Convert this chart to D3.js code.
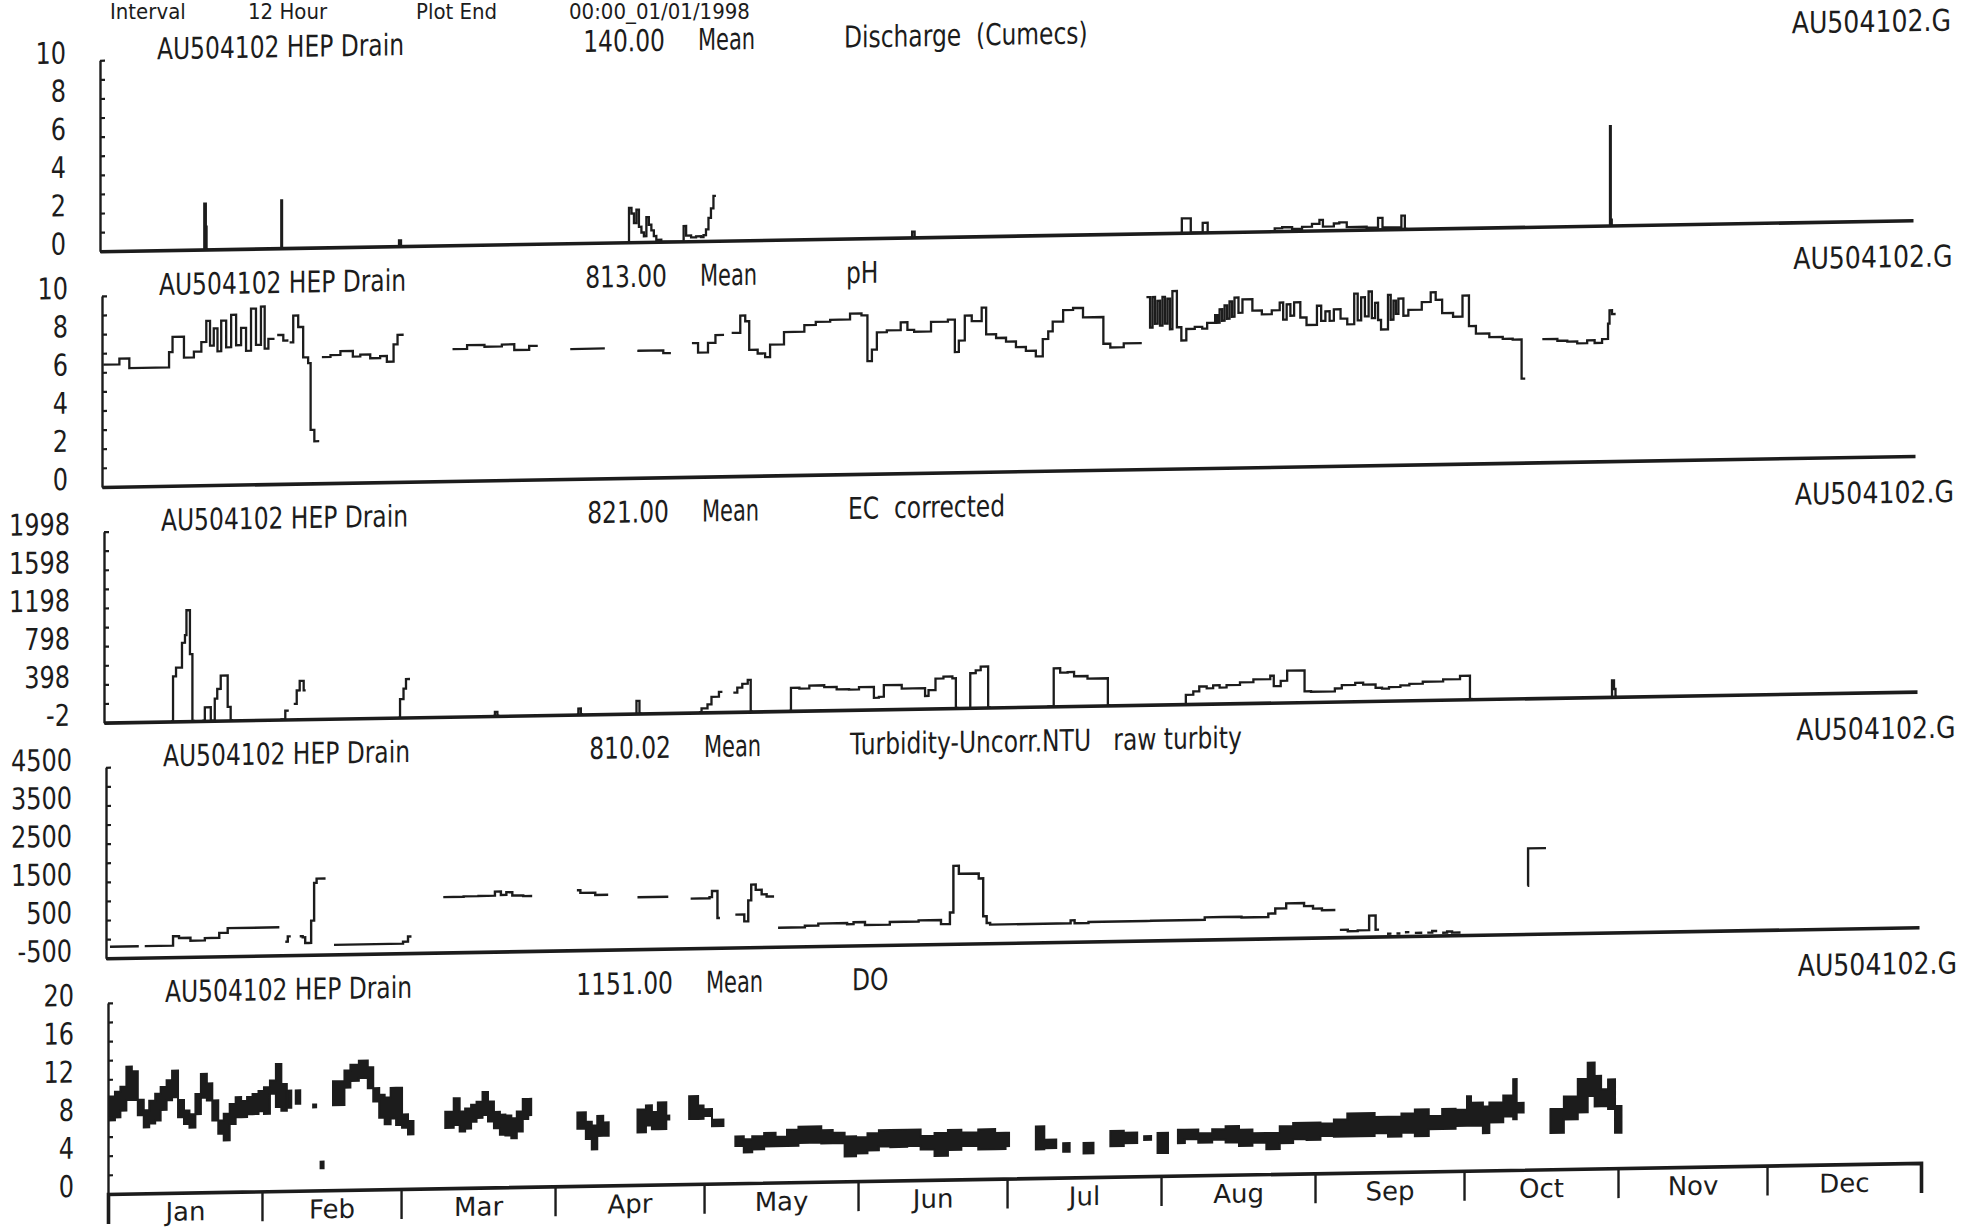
<!DOCTYPE html>
<html>
<head>
<meta charset="utf-8">
<script src="https://cdn.jsdelivr.net/npm/d3@7"></script>
<style>
  html, body { margin: 0; padding: 0; background: #ffffff; }
  svg { display: block; }
  text { font-family: "DejaVu Sans", "Liberation Sans", sans-serif; fill: #1c1c1c; white-space: pre; }
</style>
</head>
<body>
<svg id="chart" width="1961" height="1229"></svg>
<script>
// ---------------- DATA ----------------
// records: [dayOfYear(1997), value] or [day, low, high]; value null = gap starts at that day
const monthNames = ["Jan","Feb","Mar","Apr","May","Jun","Jul","Aug","Sep","Oct","Nov","Dec"];
const headerTexts = ["Interval", "12 Hour", "Plot End", "00:00_01/01/1998"];
const stationTitle = "AU504102 HEP Drain";
const fileLabel = "AU504102.G";
const meanWord = "Mean";
const meanValues = ["140.00", "813.00", "821.00", "810.02", "1151.00"];
const paramLabels = ["Discharge  (Cumecs)", "pH", "EC  corrected", "Turbidity-Uncorr.NTU   raw turbity", "DO"];

const dischargeDomain = [0, 10];
const phDomain = [0, 10];
const ecDomain = [-2, 1998];
const turbDomain = [-500, 4500];
const doDomain = [0, 20];

const dischargeTickLabels = [0, 2, 4, 6, 8, 10];
const phTickLabels = [0, 2, 4, 6, 8, 10];
const ecTickLabels = [-2, 398, 798, 1198, 1598, 1998];
const turbTickLabels = [-500, 500, 1500, 2500, 3500, 4500];
const doTickLabels = [0, 4, 8, 12, 16, 20];

const dischargeData = [
  [20.8,0],[21,2.4],[21.3,1.2],[21.45,0],[21.8,null],
  [36.3,0],[36.5,2.5],[36.65,0],[37,null],
  [59.8,0],[60.2,0.3],[60.6,0],[61,null],
  [106.3,0],[106.5,1.8],[107,1.5],[107.5,1.0],[108,1.7],[108.5,0.8],[109,0.5],[109.5,0.3],[110,1.3],[110.5,0.9],[111,0.6],[111.5,0.3],[112,0.1],[113,0],
  [117.5,0.8],[118,0.3],[119,0.2],[120,0.25],[121,0.2],[121.5,0.3],[122,0.6],[122.5,1.2],[123,1.7],[123.5,2.35],[124,null],
  [163.2,0],[163.5,0.3],[164,0],[164.5,null],
  [217.5,0],[217.8,0.75],[219.6,0],[221.8,0],[222,0.5],[223,0],[223.5,null],
  [235.5,0],[236.5,0.15],[238,0.2],[240,0.1],[242,0.2],[244,0.35],[245.5,0.55],[246.2,0.2],[248.4,0.35],[249.5,0.4],[251,0.15],[255,0.1],[257.3,0.6],[258.2,0.1],[260,0.1],[262,0.7],[262.7,0],[263.2,null],
  [303.8,0],[304,5.2],[304.15,0.3],[304.35,0],[304.6,null]
];

const phData = [
  [0.5,6.4],[3.5,6.7],[5.5,6.2],[13.5,7.0],[14.2,7.8],[16.5,6.7],[18.5,7.0],[20,7.5],[21,7.3,8.6],[22.5,7.0,8.2],[24,7.2,8.6],[26,7.3,8.9],[28,7.0,8.2],[30,7.3,9.2],[32,7.1,9.3],[33.5,7.6],[34.5,null],
  [35.5,7.8],[36.5,7.5],[37.3,null],
  [38,7.4],[38.5,8.8],[39.5,8.2],[40.5,6.6],[41.5,6.3],[42,2.2,2.8],[43.5,null],
  [44.5,6.6],[46,6.7],[48,6.9],[50.5,6.6],[52,6.7],[54,6.5],[56,6.3,6.6],[58.7,7.2],[59.5,7.7],[60.5,null],
  [70.8,6.9],[73.5,7.1],[77,7.0],[80.5,7.1],[83,6.8],[86,7.0],[87.5,null],
  [94.5,6.8],[101,null],
  [108,6.65],[113,6.5],[114.3,null],
  [119,7.0],[120,6.5],[122,7.0],[123.5,7.4],[125,null],
  [127,7.5],[128.5,8.4],[129.5,8.1],[130.3,6.6],[132,6.4],[133.5,6.2],[134.5,6.85],[137.3,7.5],[141.4,7.85],[143.7,8.0],[146.6,8.1],[150.6,8.4],[152.9,8.3],[154.1,5.9],[155,6.5],[156,7.4],[158,7.5],[160.8,7.5,7.9],[163.5,7.4],[166.9,7.9],[170.3,8.0],[171.7,6.3],[172.5,6.9],[173.7,8.2],[175.1,7.9],[177.1,8.6],[178,7.2],[180,7.0],[182,6.8],[184,6.5],[186,6.3],[188,6.0],[189.4,6.9],[190.5,7.3],[191.4,7.8],[193.5,8.4],[195.5,8.5],[197.5,8.0],[201.6,6.6],[203,6.4],[205.7,6.6],[209.1,null],
  [210.5,7.4,9.0],[211.5,7.6,9.0],[212.5,7.5,8.8],[213.5,7.6,9.0],[214.5,7.3,8.9],[215.5,7.4,9.3],[217.3,6.7],[218.3,7.3],[220,7.4],[221.5,7.3],[222.5,7.6],[224.1,7.6,8.0],[225,7.7,8.3],[226,7.8,8.5],[227,7.9,8.7],[228,8.1,8.9],[229.6,8.8],[231.6,8.2],[233.5,8.0],[235.5,8.2],[237.1,7.7,8.6],[238.5,7.9,8.5],[240,7.8,8.6],[242.5,7.4],[244.6,7.6,8.4],[246.3,7.6,8.1],[248,7.7,8.2],[250.7,7.4],[252.1,7.6,9.0],[253.5,7.8,8.8],[255,7.7,9.1],[256.3,7.6,8.5],[257.5,7.1],[258.9,7.6,8.9],[260,7.9,8.6],[261,7.8,8.7],[263,8.1],[265.7,8.5],[267.5,9.0],[268.5,8.6],[269.8,7.9],[272,7.7],[273.9,8.8],[275.2,7.2],[276.6,6.8],[279.3,6.6],[282,6.5],[284,6.45],[285.8,4.4],[286.3,null],
  [290.2,6.45],[293,6.35],[295,6.3],[297,6.2],[299,6.35],[300.5,6.2],[302,6.4],[303.2,7.2],[303.5,7.9],[304,7.7],[304.5,null]
];

const ecData = [
  [13.5,0],[13.9,470],[14.5,560],[15.7,820],[16.3,900],[16.6,1160],[17.3,700],[17.8,0],[18.3,null],
  [19.8,0],[20.3,140],[21.5,0],[22.3,230],[22.8,330],[23.5,470],[24.9,140],[25.5,0],[26,null],
  [35.5,0],[36.5,90],[37.2,null],[38.2,160],[38.8,300],[39.4,400],[40.2,300],[40.6,null],
  [59.3,0],[59.6,190],[60.3,300],[60.8,400],[61.6,null],
  [78.4,0],[78.7,40],[79.2,0],[79.6,null],
  [95.2,0],[95.5,60],[96,0],[96.4,null],
  [107,0],[107.2,130],[107.8,0],[108.2,null],
  [119.8,0],[120.3,40],[121.5,80],[122.3,160],[123.8,210],[124.5,null],
  [126.7,200],[127.5,250],[128.5,290],[129.6,330],[130.2,0],[130.6,null],
  [138,0],[138.3,240],[140,230],[142,260],[145,240],[147.5,215],[150,210],[152,235],[155,120],[156,130],[157,250],[160.6,212],[165.3,130],[166,190],[167.4,310],[169,330],[170.8,310],[171.5,0],[172,null],
  [174.2,0],[174.4,360],[175.5,390],[176.5,428],[178,0],[178.5,null],
  [189.9,0],[191.2,397],[192.5,350],[194,355],[195.3,310],[198,283],[202.1,0],[202.6,null],
  [217.6,0],[217.8,95],[219.3,130],[220.5,180],[222,160],[223.3,190],[224.6,165],[226,190],[228.7,215],[231.4,245],[234.8,280],[235.5,170],[236.9,225],[238.2,330],[241.7,110],[243,105],[247.8,135],[249.2,170],[251.9,190],[253.5,170],[256,135],[257.3,125],[258.7,140],[261,155],[262.8,170],[265.5,190],[269.6,210],[273,245],[275,0],[275.5,null],
  [303.4,0],[303.6,170],[304,80],[304.3,0],[304.6,null]
];

const turbData = [
  [0.8,-200],[6.6,null],[7.8,-200],[13.5,46],[14.7,0],[17,-77],[19.9,-15],[22.8,114],[24.5,234],[34.9,null],
  [36.1,-146],[36.6,-8],[37.2,null],[39,-10],[39.6,-40],[40.1,-190],[40.8,-190],[41.3,395],[41.9,1380],[42.4,1490],[44.2,null],
  [45.9,-250],[59.8,-200],[60.8,-66],[61.5,null],
  [67.9,950],[72,960],[75,965],[78.3,1070],[79.5,980],[80.6,1050],[81.8,960],[84,940],[85.8,null],
  [94.8,1070],[95.5,1000],[98.5,940],[101.1,null],
  [107,860],[113.2,null],
  [117.7,800],[121.5,830],[122,990],[123.1,280],[123.6,null],
  [126.7,360],[128.5,180],[129.3,730],[129.9,1140],[130.8,1000],[132,880],[133,820],[134.5,null],
  [135.3,0],[140.7,40],[143.4,90],[149.2,60],[150.5,110],[152.8,30],[157.8,100],[163.6,130],[168.1,20],[169.9,320],[170.6,1540],[171.7,1330],[175.7,1200],[176.6,210],[177.3,30],[178,-15],[194.2,60],[195,-15],[197.8,10],[209.5,10],[210.4,15],[219.4,15],[221.2,80],[224.8,80],[228.6,60],[234,150],[235.4,280],[237.6,410],[241.2,330],[243,260],[244.8,215],[247.5,null],
  [248.4,-310],[250,-350],[252,-330],[254.3,50],[255.6,-320],[256.3,null],[257.9,-430],[258.8,null],[259.8,-430],[260.6,null],[261.5,-400],[262.4,null],[263.5,-420],[265,null],[266,-420],[267,-380],[268,null],[269,-430],[270,-400],[271,-430],[272.7,null],
  [286.2,760],[286.3,1740],[289.8,1740],[289.9,null]
];

const doData = [
  [0.2,7.7,10.2],[1.4,8.0,10.7],[2.5,8.7,11.2],[3.7,9.8,13.3],[4.8,9.8,12.8],[6.0,8.2,9.8],[7.2,6.9,8.7],[8.3,7.3,9.7],[9.5,7.6,10.4],[10.6,8.7,11.1],[11.8,9.7,11.8],[12.9,10.0,12.8],[14.1,7.9,9.7],[15.3,7.2,8.6],[16.4,6.8,8.2],[17.6,8.2,10.3],[18.7,9.9,12.4],[19.9,9.6,11.4],[21.0,7.5,9.6],[22.2,6.1,7.5],[23.3,5.4,8.2],[24.5,7.1,9.2],[25.7,7.8,9.9],[26.8,7.8,9.5],[28.0,8.1,9.9],[29.1,8.1,10.2],[30.3,8.4,10.5],[31.4,8.1,10.9],[32.6,10.2,11.6],[33.8,8.8,13.3],[34.9,8.4,11.2],[36.0,null],
  [36.1,8.7,10.5],[36.9,null],[37.8,9.1,10.5],[38.7,null],[41.3,8.7,9.0],[41.9,null],[42.8,2.3,3.0],[43.4,null],
  [45.3,8.9,11.4],[47.6,10.7,12.5],[48.8,11.4,13.1],[50.5,11.7,13.5],[52.3,10.6,12.8],[53.4,9.2,10.6],[54.6,7.5,9.9],[55.7,6.8,9.6],[56.9,7.4,10.6],[58.0,6.7,10.6],[59.2,6.4,7.8],[60.4,5.7,7.1],[61.5,null],
  [67.9,6.3,8.0],[69.6,6.6,9.4],[70.8,5.9,8.0],[71.9,6.2,8.3],[73.1,6.9,8.7],[74.2,7.3,9.0],[75.4,7.6,10.0],[76.5,6.9,9.0],[77.7,6.2,7.9],[78.9,5.5,7.6],[80.0,5.4,7.5],[81.2,5.1,7.2],[82.3,5.8,7.9],[83.5,7.1,9.2],[84.6,7.5,9.2],[85.2,null],
  [94.5,6.0,7.7],[96.2,4.9,6.7],[97.4,3.8,6.3],[98.5,5.2,7.3],[99.7,5.2,6.6],[100.8,null],
  [106.6,5.5,7.9],[108.3,6.2,8.3],[109.5,5.8,7.6],[110.7,5.8,8.6],[112.4,6.8,7.2],[113.0,null],
  [117.0,6.8,9.2],[118.8,6.8,8.2],[119.9,7.1,7.8],[121.6,6.0,6.7],[123.9,null],
  [126.3,3.9,4.9],[128.0,3.2,4.6],[129.7,3.5,4.9],[132.1,3.8,5.2],[134.4,3.8,4.8],[136.7,3.8,5.5],[139.0,4.1,5.8],[141.3,4.1,5.8],[143.6,4.0,5.4],[145.9,4.0,5.1],[148.3,2.6,4.7],[150.6,2.9,4.6],[152.9,3.2,5.0],[155.2,3.6,5.3],[157.5,3.5,5.3],[160.9,3.6,5.3],[163.6,3.2,4.6],[166.4,2.5,4.9],[169.1,3.1,5.2],[171.8,3.5,4.9],[175.2,3.1,5.2],[178.6,3.1,4.8],[180.7,3.4,4.8],[181.4,null],
  [186.8,3.0,5.4],[188.5,3.1,4.0],[190.9,null],[192.3,2.7,3.6],[193.6,null],[196.4,2.5,3.6],[198.4,null],
  [201.8,3.2,4.8],[204.5,3.5,4.6],[207.2,null],[208.6,3.8,4.2],[210.0,null],[211.3,2.4,4.5],[213.4,null],
  [215.4,3.4,4.8],[216.8,3.8,4.8],[219.5,3.4,4.4],[222.3,3.7,4.8],[225.0,3.4,5.1],[227.7,3.0,4.7],[230.4,3.3,4.3],[233.2,2.6,4.3],[235.9,3.2,5.0],[238.6,3.6,5.3],[241.3,3.5,5.3],[244.1,3.9,5.2],[246.8,3.8,5.6],[249.5,3.8,6.2],[252.2,3.8,6.2],[255.0,4.1,5.8],[257.7,3.7,5.8],[260.4,4.1,6.1],[263.1,3.7,6.5],[265.9,4.4,5.8],[268.6,4.4,6.5],[271.3,4.7,6.4],[273.6,4.7,7.8],[274.4,4.7,7.1],[276.8,3.9,6.7],[278.1,5.0,7.1],[280.9,5.6,7.8],[282.9,5.3,9.5],[283.6,6.0,7.0],[285.0,null],
  [290.4,3.8,6.3],[293.1,5.2,7.6],[295.9,5.9,9.4],[297.9,7.6,11.1],[299.3,6.5,9.7],[300.6,6.5,8.3],[302.0,6.2,9.3],[303.4,3.7,6.5],[304.7,null]
];

// ---------------- DRAWING ----------------
const ink = "#1c1c1c";
const svg = d3.select("#chart");
// the scanned page is slightly skewed: horizontal lines rise to the right
const root = svg.append("g").attr("transform", "skewY(-0.98)");

const yearStart = new Date(Date.UTC(1997, 0, 1));
const yearEnd = new Date(Date.UTC(1998, 0, 1));
const dayToDate = d => new Date(yearStart.getTime() + d * 864e5);

function toSegments(records) {
  const segs = [];
  let cur = [];
  for (const r of records) {
    if (r[1] == null) {
      if (cur.length) {
        const last = cur[cur.length - 1];
        cur.push([r[0], last[1], last[2]]);
        segs.push(cur);
      }
      cur = [];
    } else {
      cur.push([r[0], r[1], r.length > 2 ? r[2] : r[1]]);
    }
  }
  if (cur.length) segs.push(cur);
  return segs;
}

// a record with a low/high pair is drawn as the 12-hourly swing: high in the
// first half of its interval, low in the second half
function toSwing(seg) {
  const pts = [];
  for (let k = 0; k < seg.length; k++) {
    const r = seg[k];
    if (k < seg.length - 1 && r[1] !== r[2]) {
      const nx = seg[k + 1][0];
      pts.push([r[0], r[2]]);
      pts.push([(r[0] + nx) / 2, r[1]]);
    } else {
      pts.push([r[0], r[1]]);
    }
  }
  return pts;
}

function addText(parent, str, x, y, opts = {}) {
  return parent.append("text")
    .attr("transform", `translate(${x},${y}) scale(${opts.sx ?? 0.78},1)`)
    .attr("text-anchor", opts.anchor || "start")
    .attr("font-size", opts.size || 30)
    .text(str);
}

// header (partly cut off by the top edge in the scan; kept inside the page here)
const headerX = [110, 248, 416, 569];
headerTexts.forEach((t, i) =>
  addText(svg, t, headerX[i], 19, { size: 22, sx: 0.9 }));

const panels = [
  { data: dischargeData, dom: dischargeDomain, step: 1,   labels: dischargeTickLabels, sw: 2.3, mode: "area" },
  { data: phData,        dom: phDomain,        step: 1,   labels: phTickLabels,        sw: 2.3, mode: "swing" },
  { data: ecData,        dom: ecDomain,        step: 200, labels: ecTickLabels,        sw: 2.3, mode: "area" },
  { data: turbData,      dom: turbDomain,      step: 500, labels: turbTickLabels,      sw: 2.4, mode: "area" },
  { data: doData,        dom: doDomain,        step: 2,   labels: doTickLabels,        sw: 2.0, mode: "area" }
];

panels.forEach((p, i) => {
  const top = 62 + 235.7 * i;
  const H = 191;
  const ax = 100 + 2 * i;
  const W = 1813;
  const x = d3.scaleUtc().domain([yearStart, yearEnd]).range([ax, ax + W]);
  const y = d3.scaleLinear().domain(p.dom).range([top + H, top]);
  const g = root.append("g");

  // series
  const segs = toSegments(p.data);
  if (p.mode === "swing") {
    const line = d3.line()
      .x(d => x(dayToDate(d[0])))
      .y(d => y(d[1]))
      .curve(d3.curveStepAfter);
    g.append("g").selectAll("path")
      .data(segs.map(toSwing))
      .join("path")
      .attr("d", line)
      .attr("fill", "none")
      .attr("stroke", ink)
      .attr("stroke-width", p.sw)
      .attr("stroke-linejoin", "miter")
      .attr("stroke-linecap", "square");
  } else {
    const area = d3.area()
      .x(d => x(dayToDate(d[0])))
      .y0(d => y(d[1]))
      .y1(d => y(d[2]))
      .curve(d3.curveStepAfter);
    g.append("g").selectAll("path")
      .data(segs)
      .join("path")
      .attr("d", area)
      .attr("fill", ink)
      .attr("stroke", ink)
      .attr("stroke-width", p.sw)
      .attr("stroke-linejoin", "miter")
      .attr("stroke-miterlimit", 2);
  }

  // y axis (ticks point inward, labels every other tick)
  const yAxis = d3.axisLeft(y)
    .tickValues(d3.range(p.dom[0], p.dom[1] + p.step / 2, p.step))
    .tickSize(-5)
    .tickSizeOuter(0)
    .tickFormat(v => p.labels.includes(Math.round(v)) ? String(Math.round(v)) : "");
  const ga = g.append("g").attr("transform", `translate(${ax},0)`).call(yAxis);
  ga.attr("font-size", null).attr("font-family", null);
  ga.select(".domain").attr("stroke", ink).attr("stroke-width", 2.4);
  ga.selectAll(".tick line").attr("stroke", ink).attr("stroke-width", 2.2);
  ga.selectAll(".tick text")
    .attr("x", null).attr("dy", null).attr("y", null)
    .attr("fill", ink)
    .attr("font-size", 30)
    .attr("text-anchor", "end")
    .attr("transform", "translate(-34,2) scale(0.8,1)");

  // baseline (and month ticks on the last panel)
  const last = i === panels.length - 1;
  const xAxis = d3.axisBottom(x).tickSizeOuter(0);
  if (last) {
    xAxis.tickValues(d3.utcMonth.range(yearStart, d3.utcDay.offset(yearEnd, 1))).tickSize(30).tickFormat("");
  } else {
    xAxis.tickValues([]);
  }
  const gx = g.append("g").attr("transform", `translate(0,${top + H})`).call(xAxis);
  gx.select(".domain").attr("stroke", ink).attr("stroke-width", 3.6);
  gx.selectAll(".tick line").attr("stroke", ink).attr("stroke-width", 2.4);

  if (last) {
    const months = d3.utcMonth.range(yearStart, yearEnd);
    const mids = months.map(m => new Date((m.getTime() + d3.utcMonth.offset(m, 1).getTime()) / 2));
    const gm = g.append("g").attr("transform", `translate(0,${top + H})`)
      .call(d3.axisBottom(x).tickValues(mids).tickSize(0)
        .tickFormat(d => monthNames[d.getUTCMonth()]));
    gm.attr("font-size", null).attr("font-family", null);
    gm.select(".domain").remove();
    gm.selectAll(".tick text")
      .attr("y", null).attr("dy", null)
      .attr("fill", ink)
      .attr("font-size", 26)
      .attr("transform", "translate(0,28)");
  }

  // panel annotations
  addText(g, stationTitle, ax + 57, top);
  addText(g, meanValues[i], ax + 565, top, { anchor: "end" });
  addText(g, meanWord, ax + 598, top, { sx: 0.7 });
  addText(g, paramLabels[i], ax + 744, top);
  addText(g, fileLabel, 1951 + 1.5 * i, top + 2, { anchor: "end", sx: 0.84 });
});
</script>
</body>
</html>
